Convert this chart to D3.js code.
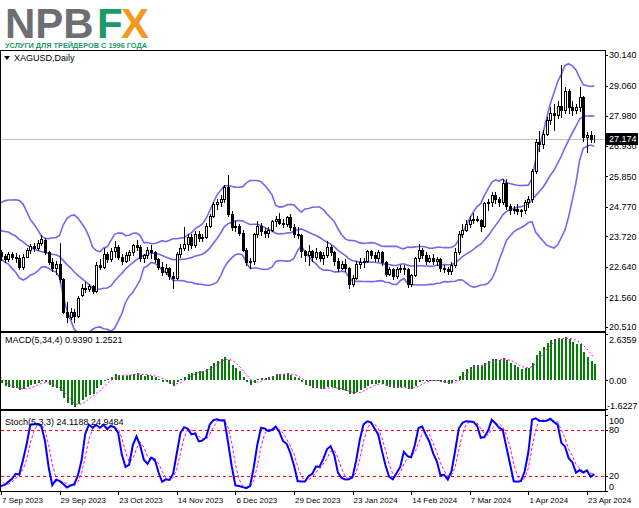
<!DOCTYPE html>
<html><head><meta charset="utf-8">
<script src="https://cdn.jsdelivr.net/npm/d3@7/dist/d3.min.js"></script>
<style>body{margin:0;background:#fff}svg{display:block}</style>
</head><body>
<svg id="c" width="639" height="508"></svg>
<script>
// ---------- DATA (XAGUSD Daily) ----------
const dates = [
"2023-09-07","2023-09-08","2023-09-11","2023-09-12","2023-09-13","2023-09-14","2023-09-15","2023-09-18","2023-09-19","2023-09-20",
"2023-09-21","2023-09-22","2023-09-25","2023-09-26","2023-09-27","2023-09-28","2023-09-29","2023-10-02","2023-10-03","2023-10-04",
"2023-10-05","2023-10-06","2023-10-09","2023-10-10","2023-10-11","2023-10-12","2023-10-13","2023-10-16","2023-10-17","2023-10-18",
"2023-10-19","2023-10-20","2023-10-23","2023-10-24","2023-10-25","2023-10-26","2023-10-27","2023-10-30","2023-10-31","2023-11-01",
"2023-11-02","2023-11-03","2023-11-06","2023-11-07","2023-11-08","2023-11-09","2023-11-10","2023-11-13","2023-11-14","2023-11-15",
"2023-11-16","2023-11-17","2023-11-20","2023-11-21","2023-11-22","2023-11-23","2023-11-24","2023-11-27","2023-11-28","2023-11-29",
"2023-11-30","2023-12-01","2023-12-04","2023-12-05","2023-12-06","2023-12-07","2023-12-08","2023-12-11","2023-12-12","2023-12-13",
"2023-12-14","2023-12-15","2023-12-18","2023-12-19","2023-12-20","2023-12-21","2023-12-22","2023-12-26","2023-12-27","2023-12-28",
"2023-12-29","2024-01-02","2024-01-03","2024-01-04","2024-01-05","2024-01-08","2024-01-09","2024-01-10","2024-01-11","2024-01-12",
"2024-01-15","2024-01-16","2024-01-17","2024-01-18","2024-01-19","2024-01-22","2024-01-23","2024-01-24","2024-01-25","2024-01-26",
"2024-01-29","2024-01-30","2024-01-31","2024-02-01","2024-02-02","2024-02-05","2024-02-06","2024-02-07","2024-02-08","2024-02-09",
"2024-02-12","2024-02-13","2024-02-14","2024-02-15","2024-02-16","2024-02-19","2024-02-20","2024-02-21","2024-02-22","2024-02-23",
"2024-02-26","2024-02-27","2024-02-28","2024-02-29","2024-03-01","2024-03-04","2024-03-05","2024-03-06","2024-03-07","2024-03-08",
"2024-03-11","2024-03-12","2024-03-13","2024-03-14","2024-03-15","2024-03-18","2024-03-19","2024-03-20","2024-03-21","2024-03-22",
"2024-03-25","2024-03-26","2024-03-27","2024-03-28","2024-04-01","2024-04-02","2024-04-03","2024-04-04","2024-04-05","2024-04-08",
"2024-04-09","2024-04-10","2024-04-11","2024-04-12","2024-04-15","2024-04-16","2024-04-17","2024-04-18","2024-04-19","2024-04-22",
"2024-04-23","2024-04-24","2024-04-25"];

const open = [
23.15,23.02,22.93,23.08,23.00,22.95,22.62,23.00,23.22,23.38,
23.30,23.50,23.60,23.15,22.82,22.60,22.75,22.20,21.05,20.85,
21.05,20.90,21.65,21.90,21.85,21.95,21.80,22.72,22.65,23.10,
22.90,23.20,23.35,23.00,22.85,23.05,23.18,23.40,23.35,22.95,
23.05,23.25,23.15,22.90,22.65,22.45,22.60,22.30,22.25,23.08,
23.30,23.45,23.70,23.40,23.80,23.65,23.70,24.10,24.45,24.85,
24.95,25.05,25.45,24.50,24.05,24.10,23.85,23.25,22.80,22.85,
23.80,24.10,23.90,23.85,23.95,24.25,24.35,24.20,24.15,24.40,
24.05,23.80,23.75,23.20,23.05,23.20,23.00,23.15,22.95,23.05,
23.35,23.15,22.85,22.60,22.75,22.60,22.05,22.25,22.75,22.80,
22.85,23.20,23.05,22.95,23.15,22.80,22.40,22.55,22.30,22.55,
22.60,22.55,22.05,22.35,22.95,23.25,23.05,22.85,22.95,22.85,
22.90,22.60,22.55,22.50,22.70,23.15,23.80,23.95,24.15,24.30,
24.35,24.30,24.10,24.90,24.95,25.20,25.05,24.95,25.60,24.80,
24.65,24.70,24.60,24.65,24.95,25.05,26.05,27.05,27.00,27.35,
27.85,28.10,28.00,28.35,28.20,28.85,28.30,28.20,28.30,28.65,
27.25,27.30,27.15];
const high = [
23.25,23.10,23.15,23.15,23.12,23.05,23.08,23.30,23.45,23.48,
23.60,23.75,23.65,23.20,22.95,22.85,23.50,22.25,21.38,21.20,
21.15,21.60,22.05,22.10,22.05,22.00,22.80,22.90,23.30,23.15,
23.30,23.55,23.40,23.10,23.15,23.25,23.45,23.60,23.40,23.10,
23.35,23.40,23.20,22.95,22.80,22.75,22.65,22.45,23.15,23.45,
24.05,23.80,23.80,23.90,23.90,23.80,24.20,24.50,24.95,25.05,
25.20,25.55,25.90,24.60,24.25,24.15,23.95,23.30,22.95,23.85,
24.25,24.20,24.00,24.05,24.30,24.45,24.55,24.35,24.45,24.50,
24.15,24.05,23.80,23.25,23.40,23.25,23.30,23.20,23.15,23.55,
23.40,23.20,22.95,22.85,22.90,22.65,22.35,22.85,22.95,22.95,
23.25,23.25,23.15,23.25,23.20,22.85,22.65,22.60,22.65,22.70,
22.70,22.60,22.40,23.00,23.45,23.30,23.15,23.05,23.10,23.00,
22.95,22.70,22.65,22.80,23.30,23.90,24.15,24.30,24.45,24.55,
24.45,24.35,24.95,25.05,25.30,25.30,25.10,25.75,25.75,24.85,
24.80,24.85,24.70,25.00,25.15,26.10,27.15,27.45,27.50,27.95,
28.30,28.40,28.50,29.80,29.00,28.95,28.50,28.40,29.00,28.70,
27.40,27.45,27.30];
const low = [
22.88,22.80,22.85,22.90,22.82,22.55,22.58,22.98,23.12,23.20,
23.25,23.42,23.10,22.75,22.50,22.40,22.10,21.00,20.68,20.80,
20.70,20.85,21.60,21.75,21.78,21.70,21.75,22.55,22.60,22.80,
22.85,23.00,22.90,22.75,22.80,22.88,23.05,23.25,22.85,22.80,
22.95,22.95,22.80,22.55,22.35,22.40,22.20,21.90,22.20,23.00,
23.25,23.25,23.30,23.35,23.55,23.55,23.65,24.05,24.40,24.70,
24.80,24.95,24.45,23.95,23.90,23.75,23.20,22.70,22.60,22.75,
23.70,23.75,23.70,23.70,23.90,24.10,24.15,24.05,24.10,23.95,
23.70,23.65,23.00,22.85,22.70,22.85,22.90,22.85,22.75,23.00,
23.05,22.70,22.50,22.55,22.50,21.90,21.95,22.20,22.60,22.65,
22.80,22.95,22.85,22.85,22.70,22.30,22.35,22.20,22.25,22.45,
22.40,21.92,21.95,22.30,22.85,22.95,22.75,22.80,22.75,22.70,
22.50,22.45,22.40,22.40,22.65,23.10,23.70,23.90,24.05,24.20,
24.25,23.90,24.05,24.65,24.80,24.90,24.80,24.85,24.70,24.50,
24.55,24.50,24.45,24.55,24.75,24.95,25.95,26.75,26.85,27.30,
27.70,27.50,27.90,27.95,28.10,28.10,28.00,28.10,28.15,27.10,
26.70,27.05,27.05];
const close = [
23.02,22.93,23.08,23.00,22.95,22.62,23.00,23.22,23.38,23.30,
23.50,23.62,23.15,22.82,22.60,22.75,22.20,21.05,20.85,21.05,
20.90,21.55,21.90,21.85,21.95,21.80,22.72,22.65,23.10,22.90,
23.20,23.35,23.00,22.85,23.05,23.18,23.40,23.35,22.95,23.05,
23.25,23.15,22.90,22.65,22.45,22.60,22.30,22.25,23.08,23.30,
23.45,23.70,23.40,23.80,23.65,23.70,24.10,24.45,24.85,24.95,
25.05,25.45,24.50,24.05,24.10,23.85,23.25,22.80,22.85,23.80,
24.10,23.90,23.85,23.95,24.25,24.35,24.20,24.15,24.40,24.05,
23.80,23.75,23.20,23.05,23.20,23.00,23.15,22.95,23.05,23.35,
23.15,22.85,22.60,22.75,22.60,22.05,22.25,22.75,22.80,22.85,
23.20,23.05,22.95,23.15,22.80,22.40,22.55,22.30,22.55,22.60,
22.55,22.05,22.35,22.95,23.25,23.05,22.85,22.95,22.85,22.90,
22.60,22.55,22.50,22.70,23.15,23.80,23.95,24.15,24.30,24.35,
24.30,24.10,24.90,24.95,25.20,25.05,24.95,25.60,24.80,24.65,
24.70,24.60,24.65,24.95,25.05,26.05,27.05,27.00,27.35,27.85,
28.10,28.00,28.35,28.20,28.85,28.30,28.20,28.30,28.65,27.25,
27.30,27.15,27.174];

// bars before the visible window (indicator warm-up, Jul 10 - Sep 6 2023)
const preClose = [
23.05,23.35,24.25,24.95,24.95,24.95,25.20,25.15,24.60,24.55,
24.45,24.65,24.95,24.25,24.30,24.75,24.15,23.65,23.55,23.60,
23.60,23.00,22.90,22.75,22.70,22.70,22.55,22.55,22.70,22.75,
23.35,23.37,24.08,23.85,24.23,24.30,24.70,24.60,24.15,24.17,
24.20,23.60,23.30];
const preHigh = [24.25,24.30,24.40,24.80,24.85,24.70,24.55,24.30,24.25,23.70];
const preLow  = [23.75,23.80,24.10,24.20,24.50,24.10,23.85,24.05,23.55,23.20];

const priceTicks = [30.140,29.060,27.980,26.930,25.850,24.770,23.720,22.640,21.560,20.510];
const macdTicks = [2.6359,0.00,-1.6227];
const stochTicks = [100,80,20,0];
const timeTickIdx = [0,16,32,48,64,80,96,112,128,144,160];
const timeTickLabels = ["7 Sep 2023","29 Sep 2023","23 Oct 2023","14 Nov 2023","6 Dec 2023","29 Dec 2023","23 Jan 2024","14 Feb 2024","7 Mar 2024","1 Apr 2024","23 Apr 2024"];
const lastPrice = 27.174;
const macdLegend = "MACD(5,34,4) 0.9390 1.2521";
const stochLegend = "Stoch(5,3,3) 24.1188 24.9484";
const symbolLabel = "XAGUSD,Daily";
const BB_PERIOD = 14, BB_DEV = 2;

// ---------- INDICATORS ----------
const off = preClose.length;
const pc = preClose.concat(close);
const allH = new Array(off - preHigh.length).fill(null).concat(preHigh, high);
const allL = new Array(off - preLow.length).fill(null).concat(preLow, low);
const M = pc.length;
const bbU = [], bbM = [], bbL = [];
for (let j = 0; j < M; j++) {
  if (j < BB_PERIOD - 1) { bbU.push(null); bbM.push(null); bbL.push(null); continue; }
  const w = pc.slice(j - BB_PERIOD + 1, j + 1);
  const m = d3.mean(w);
  const sd = Math.sqrt(d3.mean(w, v => (v - m) * (v - m)));
  bbM.push(m); bbU.push(m + BB_DEV * sd); bbL.push(m - BB_DEV * sd);
}
const macd = [], sig = [];
let e5 = pc[0], e34 = pc[0];
for (let j = 0; j < M; j++) {
  e5 = e5 + (2 / 6) * (pc[j] - e5);
  e34 = e34 + (2 / 35) * (pc[j] - e34);
  macd.push(e5 - e34);
  sig.push(j >= 3 ? d3.mean(macd.slice(j - 3, j + 1)) : null);
}
const num = [], den = [];
for (let j = 0; j < M; j++) {
  const hs = allH.slice(Math.max(0, j - 4), j + 1), ls = allL.slice(Math.max(0, j - 4), j + 1);
  if (j < 4 || hs.some(v => v == null)) { num.push(null); den.push(null); continue; }
  const hh = d3.max(hs), ll = d3.min(ls);
  num.push(pc[j] - ll); den.push(hh - ll);
}
const stK = [], stD = [];
for (let j = 0; j < M; j++) {
  const n = num.slice(j - 2, j + 1), d = den.slice(j - 2, j + 1);
  if (j < 2 || n.some(v => v == null)) { stK.push(null); } else {
    const s = d3.sum(d); stK.push(s === 0 ? 100 : 100 * d3.sum(n) / s);
  }
  const k = stK.slice(j - 2, j + 1);
  stD.push(j < 2 || k.some(v => v == null) ? null : d3.mean(k));
}

// ---------- LAYOUT ----------
const svg = d3.select("#c");
const FONT = "'Liberation Sans', Arial, sans-serif";
const XR = 605;
const P1 = {t: 51, b: 331}, P2 = {t: 333, b: 409}, P3 = {t: 411, b: 491};
const x = d3.scaleLinear().domain([0, dates.length - 1]).range([1, 594.3]);
const yP = d3.scaleLinear().domain([20.51, 30.14]).range([327, 55]);
const yM = d3.scaleLinear().domain([-1.6227, 2.6359]).range([409, 334]);
const yS = d3.scaleLinear().domain([0, 100]).range([491, 414.5]);

const defs = svg.append("defs");
[["c1", P1], ["c2", P2], ["c3", P3]].forEach(([id, p]) => {
  defs.append("clipPath").attr("id", id).append("rect")
    .attr("x", 1).attr("y", p.t).attr("width", XR - 1).attr("height", p.b - p.t);
});

// ---------- LOGO ----------
const logo = svg.append("g");
logo.append("text").attr("x", 5).attr("y", 38).attr("font-family", FONT).attr("font-weight", "bold")
  .attr("font-size", 42).attr("fill", "#6d6e71").text("NPB");
logo.append("text").attr("x", 97).attr("y", 38).attr("font-family", FONT).attr("font-weight", "bold")
  .attr("font-size", 42).attr("fill", "#1a9a68").text("F");
logo.append("text").attr("x", 121).attr("y", 38).attr("font-family", FONT).attr("font-weight", "bold")
  .attr("font-size", 42).attr("fill", "#f39a1e").text("X");
logo.append("text").attr("x", 5).attr("y", 48).attr("font-family", FONT).attr("font-weight", "bold")
  .attr("font-size", 8).attr("fill", "#1a9a68").attr("textLength", 142).attr("lengthAdjust", "spacingAndGlyphs")
  .text("УСЛУГИ ДЛЯ ТРЕЙДЕРОВ С 1996 ГОДА");

// ---------- FRAME ----------
const fr = svg.append("g").attr("stroke", "#000").attr("stroke-width", 1).attr("shape-rendering", "crispEdges");
fr.append("line").attr("x1", 0).attr("x2", XR + 0.5).attr("y1", 50.5).attr("y2", 50.5);
fr.append("line").attr("x1", 0.5).attr("x2", 0.5).attr("y1", 50).attr("y2", 492);
fr.append("line").attr("x1", XR + 0.5).attr("x2", XR + 0.5).attr("y1", 50).attr("y2", 492);
[331.5, 332.5, 409.5, 410.5, 491.5].forEach(yy =>
  fr.append("line").attr("x1", 0).attr("x2", XR + 0.5).attr("y1", yy).attr("y2", yy));

// ---------- PRICE PANEL ----------
const g1 = svg.append("g").attr("clip-path", "url(#c1)");
g1.append("line").attr("x1", 1).attr("x2", XR).attr("y1", Math.round(yP(lastPrice)) + 0.5).attr("y2", Math.round(yP(lastPrice)) + 0.5)
  .attr("stroke", "#c0c0c0").attr("shape-rendering", "crispEdges");

const idxAll = d3.range(-2, dates.length);
const bandLine = arr => d3.line().defined(i => arr[i + off] != null).x(i => x(i)).y(i => yP(arr[i + off])).curve(d3.curveLinear);
[bbU, bbM, bbL].forEach(arr => g1.append("path").datum(idxAll).attr("d", bandLine(arr))
  .attr("fill", "none").attr("stroke", "#7468ee").attr("stroke-width", 1.6));

const candles = g1.append("g").attr("shape-rendering", "crispEdges");
dates.forEach((d, i) => {
  const cx = Math.round(x(i));
  const o = open[i], c = close[i], h = high[i], l = low[i];
  candles.append("line").attr("x1", cx + 0.5).attr("x2", cx + 0.5)
    .attr("y1", Math.round(yP(h))).attr("y2", Math.round(yP(l)) + 1).attr("stroke", "#000");
  const yt = Math.round(yP(Math.max(o, c))), yb = Math.round(yP(Math.min(o, c)));
  if (c >= o) {
    candles.append("rect").attr("x", cx - 0.5).attr("y", yt + 0.5).attr("width", 2).attr("height", Math.max(0, yb - yt))
      .attr("fill", "#fff").attr("stroke", "#000");
  } else {
    candles.append("rect").attr("x", cx - 1).attr("y", yt).attr("width", 3).attr("height", Math.max(1, yb - yt + 1))
      .attr("fill", "#000");
  }
});

// ---------- MACD PANEL ----------
const g2 = svg.append("g").attr("clip-path", "url(#c2)");
g2.append("g").attr("shape-rendering", "crispEdges").selectAll("rect").data(d3.range(dates.length)).join("rect")
  .attr("x", i => Math.round(x(i)) - 0.5).attr("width", 2)
  .attr("y", i => Math.min(yM(0), yM(macd[i + off])))
  .attr("height", i => Math.max(1, Math.abs(yM(macd[i + off]) - yM(0))))
  .attr("fill", "#008000");
g2.append("path").datum(idxAll).attr("d", d3.line().defined(i => sig[i + off] != null).x(i => x(i)).y(i => yM(sig[i + off])))
  .attr("fill", "none").attr("stroke", "#ff00ff").attr("stroke-width", 1).attr("stroke-dasharray", "2,2");

// ---------- STOCH PANEL ----------
const g3 = svg.append("g").attr("clip-path", "url(#c3)");
[80, 20].forEach(v => g3.append("line").attr("x1", 1).attr("x2", XR).attr("y1", Math.round(yS(v)) + 0.5).attr("y2", Math.round(yS(v)) + 0.5)
  .attr("stroke", "#ff0000").attr("stroke-dasharray", "3,3").attr("shape-rendering", "crispEdges"));
g3.append("path").datum(idxAll).attr("d", d3.line().defined(i => stD[i + off] != null).x(i => x(i)).y(i => yS(stD[i + off])))
  .attr("fill", "none").attr("stroke", "#ff00ff").attr("stroke-width", 1).attr("stroke-dasharray", "3,2");
g3.append("path").datum(idxAll).attr("d", d3.line().defined(i => stK[i + off] != null).x(i => x(i)).y(i => yS(stK[i + off])))
  .attr("fill", "none").attr("stroke", "#0000ff").attr("stroke-width", 2);

// ---------- AXES ----------
function styleAxis(g, fs) {
  g.select(".domain").remove();
  g.selectAll("line").attr("stroke", "#000").attr("shape-rendering", "crispEdges");
  g.selectAll("text").attr("font-family", FONT).attr("font-size", fs).attr("fill", "#000");
}
const axP = svg.append("g").attr("transform", `translate(${XR},0)`)
  .call(d3.axisRight(yP).tickValues(priceTicks).tickFormat(d => d.toFixed(3)).tickSize(3).tickPadding(1));
styleAxis(axP, 9);
const axM = svg.append("g").attr("transform", `translate(${XR},0)`)
  .call(d3.axisRight(yM).tickValues(macdTicks).tickFormat(d => d === 0 ? "0.00" : d.toFixed(4)).tickSize(3).tickPadding(1));
styleAxis(axM, 9);
axM.selectAll(".tick").filter(d => d === macdTicks[0]).select("text").attr("dy", "0.9em");
axM.selectAll(".tick").filter(d => d === macdTicks[2]).select("text").attr("dy", "-0.05em").attr("x", 2);
const axS = svg.append("g").attr("transform", `translate(${XR},0)`)
  .call(d3.axisRight(yS).tickValues(stochTicks).tickFormat(d3.format("d")).tickSize(3).tickPadding(1));
styleAxis(axS, 9);
axS.selectAll(".tick").filter(d => d === 100).select("text").attr("dy", "0.95em");
axS.selectAll(".tick").filter(d => d === 0).select("text").attr("dy", "-0.12em");

const axX = svg.append("g").attr("transform", `translate(0,${P3.b})`)
  .call(d3.axisBottom(x).tickValues(timeTickIdx).tickFormat((d, k) => timeTickLabels[k]).tickSize(4).tickPadding(2));
styleAxis(axX, 8);
axX.selectAll(".tick text").attr("text-anchor", "start").attr("dx", "0.5").attr("dy", "0.8em");

// last price label
const ly = yP(lastPrice);
svg.append("rect").attr("x", XR + 1).attr("y", Math.round(ly) - 6).attr("width", 32).attr("height", 12).attr("fill", "#000");
svg.append("text").attr("x", XR + 4).attr("y", ly).attr("dy", "0.35em").attr("font-family", FONT).attr("font-size", 9)
  .attr("fill", "#fff").text(lastPrice.toFixed(3));

// ---------- LEGENDS ----------
svg.append("path").attr("d", "M4,56 L10,56 L7,60 Z").attr("fill", "#000");
svg.append("text").attr("x", 14).attr("y", 61).attr("font-family", FONT).attr("font-size", 9).text(symbolLabel);
svg.append("text").attr("x", 5).attr("y", 343).attr("font-family", FONT).attr("font-size", 9).text(macdLegend);
svg.append("text").attr("x", 5).attr("y", 425).attr("font-family", FONT).attr("font-size", 9).text(stochLegend);
</script>
</body></html>
